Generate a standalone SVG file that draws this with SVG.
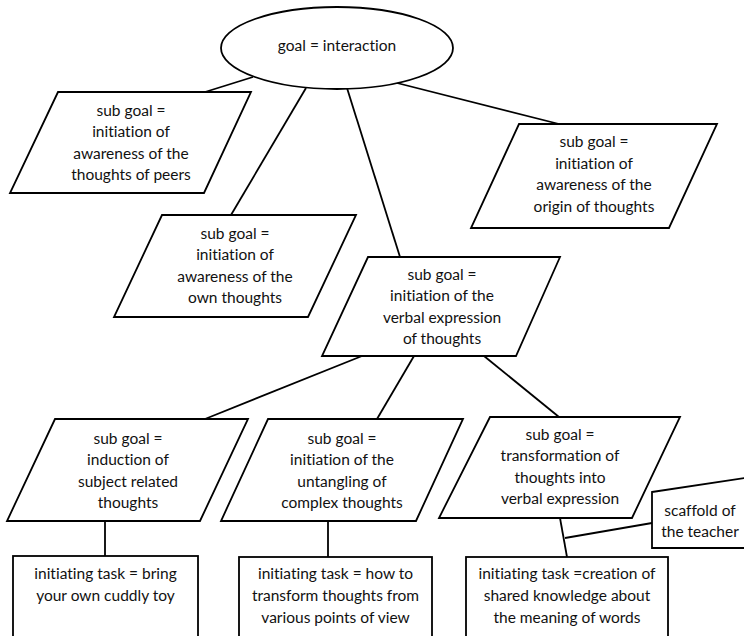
<svg xmlns="http://www.w3.org/2000/svg" width="744" height="636" viewBox="0 0 744 636">
<style>
.s{fill:#fff;stroke:#000;stroke-width:1.8;stroke-linejoin:miter}
.c{fill:none;stroke:#000;stroke-width:1.8}
text{font-family:Lato,"Liberation Sans",Arial,sans-serif;font-size:15.5px;fill:#111;text-anchor:middle;font-variant-ligatures:none;font-feature-settings:"liga" 0}
</style>
<rect width="744" height="636" fill="#fff"/>
<g id="connectors">
<line class="c" x1="253" y1="77" x2="205" y2="92"/>
<line class="c" x1="306" y1="88" x2="231" y2="215"/>
<line class="c" x1="347" y1="88" x2="400" y2="257"/>
<line class="c" x1="397" y1="83" x2="559" y2="124"/>
<line class="c" x1="362" y1="356" x2="205" y2="419"/>
<line class="c" x1="414" y1="356" x2="377" y2="419"/>
<line class="c" x1="484" y1="356" x2="559" y2="417"/>
<line class="c" x1="105" y1="521" x2="105" y2="556"/>
<line class="c" x1="328" y1="521" x2="328" y2="557"/>
<line class="c" x1="560" y1="518" x2="567" y2="557"/>
<line class="c" x1="565" y1="538" x2="652" y2="523"/>
</g>
<g id="goal">
<ellipse class="s" cx="337" cy="48" rx="116" ry="41"/>
<text x="337" y="50.5">goal = interaction</text>
</g>
<g id="sub-peers">
<polygon class="s" points="58,92 251,92 204,193 10,193"/>
<text x="131" y="115.5"><tspan x="131">sub goal =</tspan><tspan x="131" dy="21.5">initiation of</tspan><tspan x="131" dy="21.5">awareness of the</tspan><tspan x="131" dy="21.5">thoughts of peers</tspan></text>
</g>
<g id="sub-origin">
<polygon class="s" points="519,124 717,124 669,228 471,228"/>
<text x="594" y="147"><tspan x="594">sub goal =</tspan><tspan x="594" dy="21.5">initiation of</tspan><tspan x="594" dy="21.5">awareness of the</tspan><tspan x="594" dy="21.5">origin of thoughts</tspan></text>
</g>
<g id="sub-own">
<polygon class="s" points="162,215 356,215 308,317 114,317"/>
<text x="235" y="238.5"><tspan x="235">sub goal =</tspan><tspan x="235" dy="21.5">initiation of</tspan><tspan x="235" dy="21.5">awareness of the</tspan><tspan x="235" dy="21.5">own thoughts</tspan></text>
</g>
<g id="sub-verbal">
<polygon class="s" points="368,257 560,257 516,356 322,356"/>
<text x="442" y="279.5"><tspan x="442">sub goal =</tspan><tspan x="442" dy="21.5">initiation of the</tspan><tspan x="442" dy="21.5">verbal expression</tspan><tspan x="442" dy="21.5">of thoughts</tspan></text>
</g>
<g id="sub-induction">
<polygon class="s" points="55,419 248,419 200,521 7,521"/>
<text x="128" y="443.5"><tspan x="128">sub goal =</tspan><tspan x="128" dy="21.5">induction of</tspan><tspan x="128" dy="21.5">subject related</tspan><tspan x="128" dy="21.5">thoughts</tspan></text>
</g>
<g id="sub-untangling">
<polygon class="s" points="268,419 463,419 416,521 221,521"/>
<text x="342" y="443.5"><tspan x="342">sub goal =</tspan><tspan x="342" dy="21.5">initiation of the</tspan><tspan x="342" dy="21.5">untangling of</tspan><tspan x="342" dy="21.5">complex thoughts</tspan></text>
</g>
<g id="sub-transformation">
<polygon class="s" points="490,417 680,417 632,518 439,518"/>
<text x="560" y="439.5"><tspan x="560">sub goal =</tspan><tspan x="560" dy="21.5">transformation of</tspan><tspan x="560" dy="21.5">thoughts into</tspan><tspan x="560" dy="21.5">verbal expression</tspan></text>
</g>
<g id="scaffold">
<polygon class="s" points="652,492 752,477 752,548 652,548"/>
<text x="700" y="515.5"><tspan x="700">scaffold of</tspan><tspan x="700" dy="21">the teacher</tspan></text>
</g>
<g id="task-toy">
<rect class="s" x="13" y="556" width="185" height="95"/>
<text x="105.5" y="579.3"><tspan x="105.5">initiating task = bring</tspan><tspan x="105.5" dy="22">your own cuddly toy</tspan></text>
</g>
<g id="task-transform">
<rect class="s" x="239" y="557" width="193" height="95"/>
<text x="335.5" y="579.3"><tspan x="335.5">initiating task = how to</tspan><tspan x="335.5" dy="22">transform thoughts from</tspan><tspan x="335.5" dy="22">various points of view</tspan></text>
</g>
<g id="task-words">
<rect class="s" x="466" y="557" width="202" height="95"/>
<text x="567" y="578.5"><tspan x="567">initiating task =creation of</tspan><tspan x="567" dy="22">shared knowledge about</tspan><tspan x="567" dy="22">the meaning of words</tspan></text>
</g>
</svg>
